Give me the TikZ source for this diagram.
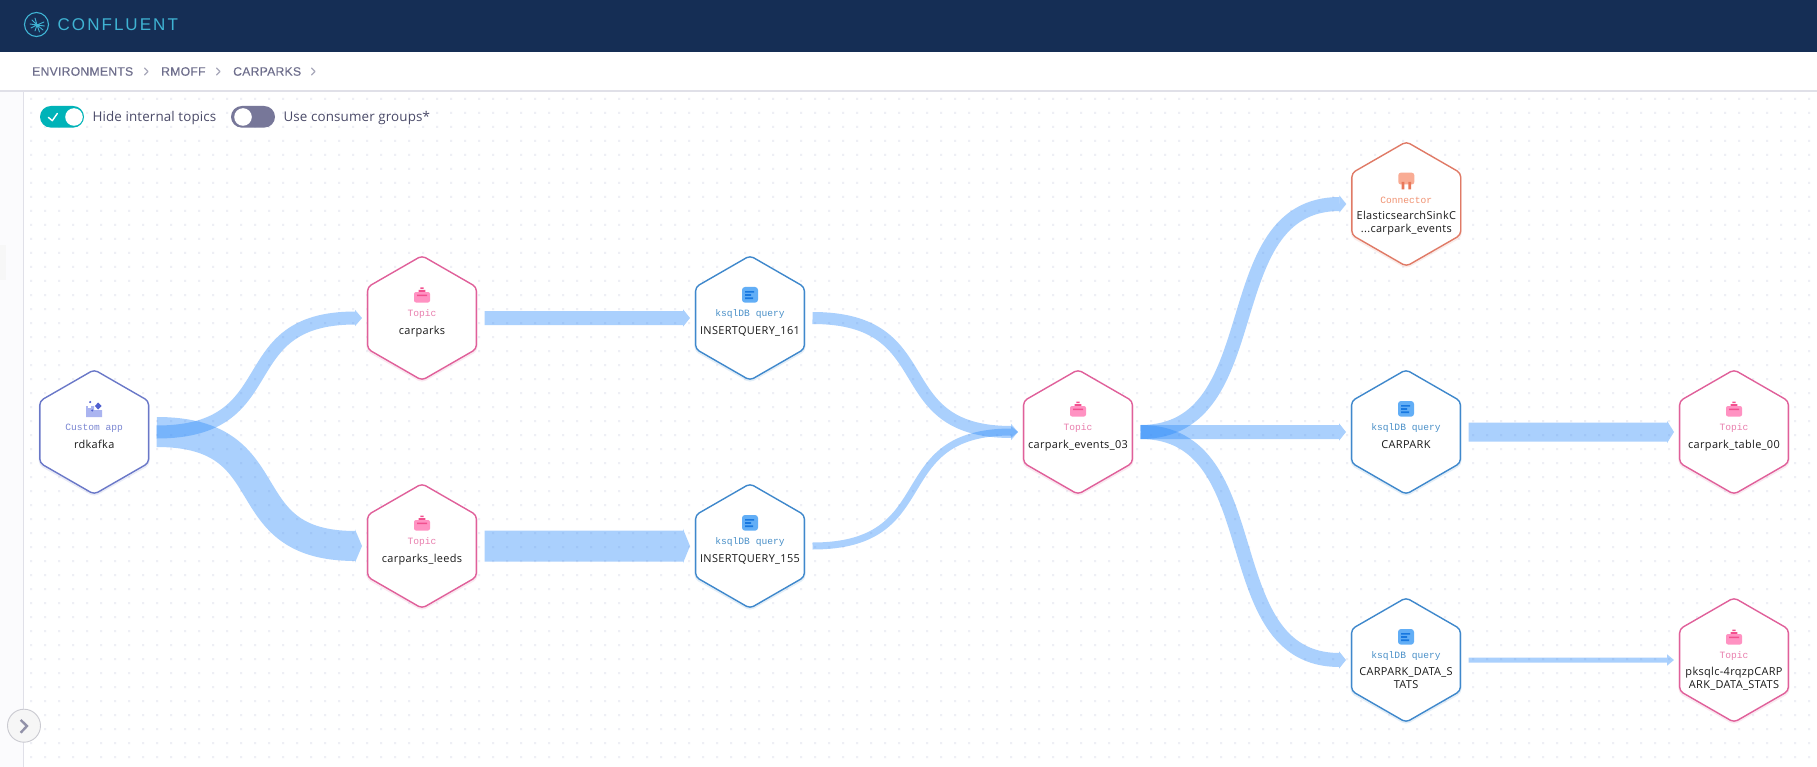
\documentclass[tikz,border=0pt]{standalone}
\usepackage{fontspec}
\usetikzlibrary{arrows.meta}
\setmainfont{Liberation Sans}
\newfontfamily\uifont[LetterSpace=1]{Open Sans}
\newfontfamily\namefont[LetterSpace=3]{Open Sans}
\newfontfamily\kindfont{Liberation Mono}
\newfontfamily\logofont[LetterSpace=12]{Liberation Sans}
\newfontfamily\crumbfont[FakeBold=0.25,LetterSpace=2]{Liberation Sans}
\definecolor{headerbg}{HTML}{152E55}
\definecolor{logoc}{HTML}{3FB3D3}
\definecolor{crumb}{HTML}{6E6E8C}
\definecolor{rulec}{HTML}{E0E0E8}
\definecolor{sidebg}{HTML}{FBFBFD}
\definecolor{dotc}{HTML}{EEEFF5}
\definecolor{flow}{RGB}{43,138,250}
\definecolor{toggleon}{HTML}{00B3B8}
\definecolor{toggleoff}{HTML}{777799}
\definecolor{uitext}{HTML}{4A4A68}
\definecolor{appline}{HTML}{6A78C8}\definecolor{applabel}{HTML}{7A86D2}
\definecolor{appbody}{HTML}{AAB4F0}\definecolor{appdark}{HTML}{5060D0}
\definecolor{topicline}{HTML}{E0609A}\definecolor{topiclabel}{HTML}{E97FAE}
\definecolor{topicbody}{HTML}{FF92C2}\definecolor{topicdark}{HTML}{F2508F}
\definecolor{ksqlline}{HTML}{3F88CC}\definecolor{ksqllabel}{HTML}{4A90C8}
\definecolor{ksqlbody}{HTML}{62AEF6}\definecolor{ksqldark}{HTML}{1878E0}
\definecolor{connline}{HTML}{E07A66}\definecolor{connlabel}{HTML}{F09272}
\definecolor{connbody}{HTML}{F9AC94}\definecolor{conndark}{HTML}{E8785A}
\tikzset{
  hexbox/.style={rectangle,minimum width=109pt,minimum height=124pt,inner sep=0pt,outer sep=0pt},
  hexline/.style={line width=1.4pt,rounded corners=4pt,line join=round},
  bandline/.style={draw=flow,shorten <=8pt,shorten >=5.5pt},
  kindlabel/.style={inner sep=0pt,font=\kindfont\fontsize{9.6}{11}\selectfont},
  namelabel/.style={inner sep=0pt,anchor=north,align=center,text=black!90,font=\namefont\fontsize{10.95}{13}\selectfont,execute at begin node=\strut},
  uilabel/.style={inner sep=0pt,anchor=west,text=uitext,font=\uifont\fontsize{13.4}{16}\selectfont},
  crumblabel/.style={inner sep=0pt,anchor=west,text=crumb,font=\crumbfont\fontsize{12.2}{14}\selectfont},
  chev/.style={draw=#1,line width=1.2pt,line cap=round,line join=round}
}
\newcommand\iconapp{%
  \fill[fill=appbody] (-8,-26) -- (-6.4,-26) -- (-6.4,-24) -- (-3,-24) -- (-3,-26) -- (0,-26) -- (0,-22) -- (8,-22) -- (8,-15) -- (-8,-15) -- cycle;
  \fill[fill=appdark] (4,-29.5) -- (7.4,-26) -- (4,-22.5) -- (.6,-26) -- cycle;
  \fill[fill=appdark] (-4,-30) circle (1.2) (-2,-21.5) circle (1.1);
}
\newcommand\icontopic{%
  \fill[fill=topicbody,rounded corners=2pt] (-8,-26) rectangle (8,-15.5);
  \fill[fill=topicdark] (-5,-23.5) rectangle (5,-22) (-3.3,-28) rectangle (3.3,-26.2) (-1.6,-30.5) rectangle (1.6,-29);
}
\newcommand\iconksql{%
  \fill[fill=ksqlbody,rounded corners=3pt] (-8,-31) rectangle (8,-15.3);
  \fill[fill=ksqldark] (-5,-27) rectangle (4,-25.4) (-5,-23.8) rectangle (1,-22.2) (-5,-20.6) rectangle (3,-19);
}
\newcommand\iconconn{%
  \fill[fill=connbody,rounded corners=2.5pt] (-8,-31.3) rectangle (8,-19.5);
  \fill[fill=conndark] (-4.8,-22) rectangle (-2,-14.7) (2,-22) rectangle (4.8,-14.7);
}
% name, x, y, kind prefix, icon, kind text, label text
\newcommand\hexnode[7]{%
  \node[hexbox] (#1) at (#2,#3) {};
  \begin{scope}[shift={(#2,#3)}]
    \draw[hexline,draw=#4line,opacity=.14,line width=2.4pt] (0,-60.5) -- (54.4,-29.5) -- (54.4,32.5) -- (0,63.5) -- (-54.4,32.5) -- (-54.4,-29.5) -- cycle;
    \draw[hexline,draw=#4line,fill=white] (0,-62.3) -- (54.4,-31) -- (54.4,31) -- (0,62.3) -- (-54.4,31) -- (-54.4,-31) -- cycle;
    #5
    \node[kindlabel,text=#4label] (#1-kind) at (0,-4) {#6};
    \node[namelabel] (#1-name) at (0,7) {#7};
  \end{scope}
}
\newcommand\band[3]{%
  \begin{scope}[transparency group,opacity=.4]
    \draw[bandline,line width=#1pt,-{Triangle[length=7pt,width=#2pt]}] #3;
  \end{scope}
}
\begin{document}
\begin{tikzpicture}[x=1pt,y=-1pt]
% page
\fill[white] (0,0) rectangle (1817,767);
\fill[sidebg] (0,92) rectangle (23.5,767);
\fill[black!3] (0,245) rectangle (6,280);
% canvas dots
\fill[dotc] foreach \dx in {0,...,127} { foreach \dy in {0,...,47} { ({30+14*\dx},{98+14*\dy}) rectangle ++(2,2) } };
% header
\fill[headerbg] (0,0) rectangle (1817,52);
\draw[logoc,line width=1.1pt] (36.5,24.5) circle (12);
\draw[logoc,line width=.9pt,line cap=round]
  (37,25) -- (44,22) (37,25) -- (44.5,26) (37,25) -- (43,30) (37,25) -- (39.5,32) (37,25) -- (35,31)
  (37,25) -- (31,28) (37,25) -- (30,24) (37,25) -- (32,20) (37,25) -- (35,18);
\node[inner sep=0pt,anchor=west,text=logoc,font=\logofont\fontsize{17}{20}\selectfont] (brand) at (57.5,24.5) {CONFLUENT};
% breadcrumb
\node[crumblabel] (crumbenv) at (32,71.5) {ENVIRONMENTS};
\draw[chev=crumb!60] (144.5,68) -- (148,71.5) -- (144.5,75);
\node[crumblabel] (crumbuser) at (161,71.5) {RMOFF};
\draw[chev=crumb!60] (216.5,68) -- (220,71.5) -- (216.5,75);
\node[crumblabel] (crumbcluster) at (233,71.5) {CARPARKS};
\draw[chev=crumb!60] (311.5,68) -- (315,71.5) -- (311.5,75);
\fill[rulec] (0,90.5) rectangle (1817,92);
\fill[rulec] (23,92) rectangle (24.2,767);
% toggles
\fill[toggleon,rounded corners=10.8pt] (40,106) rectangle (84,127.6);
\fill[white] (74,117) circle (8.8);
\draw[white,line width=1.4pt,line cap=round,line join=round] (48.3,117.3) -- (52.3,120.7) -- (57.3,113.5);
\node[uilabel] (hidelabel) at (92.3,117.8) {Hide internal topics};
\fill[toggleoff,rounded corners=10.8pt] (231,106) rectangle (275,127.6);
\fill[white] (243,117) circle (8.8);
\node[uilabel] (grouplabel) at (283.3,117.8) {Use consumer groups*};
% nodes
\hexnode{rdkafka}{94.2}{432}{app}{\iconapp}{Custom app}{rdkafka}
\hexnode{carparks}{422}{318}{topic}{\icontopic}{Topic}{carparks}
\hexnode{leeds}{422}{546}{topic}{\icontopic}{Topic}{carparks\_leeds}
\hexnode{qa}{750}{318}{ksql}{\iconksql}{ksqlDB query}{INSERTQUERY\_161}
\hexnode{qb}{750}{546}{ksql}{\iconksql}{ksqlDB query}{INSERTQUERY\_155}
\hexnode{events}{1078}{432}{topic}{\icontopic}{Topic}{carpark\_events\_03}
\hexnode{sink}{1406.3}{204}{conn}{\iconconn}{Connector}{ElasticsearchSinkC\\...carpark\_events}
\hexnode{carpark}{1406}{432}{ksql}{\iconksql}{ksqlDB query}{CARPARK}
\hexnode{stats}{1406}{660}{ksql}{\iconksql}{ksqlDB query}{CARPARK\_DATA\_S\\TATS}
\hexnode{tableout}{1734}{432}{topic}{\icontopic}{Topic}{carpark\_table\_00}
\hexnode{statsout}{1734}{660}{topic}{\icontopic}{Topic}{pksqlc-4rqzpCARP\\ARK\_DATA\_STATS}
% flows
\band{13}{16}{(rdkafka.east) .. controls +(140,0) and +(-140,0) .. (carparks.west)}
\band{30}{33}{(rdkafka.east) .. controls +(140,0) and +(-140,0) .. (leeds.west)}
\band{14}{17}{(carparks.east) -- (qa.west)}
\band{31}{34}{(leeds.east) -- (qb.west)}
\band{12}{16}{(qa.east) .. controls +(140,0) and +(-140,0) .. (events.west)}
\band{7}{11}{(qb.east) .. controls +(140,0) and +(-140,0) .. (events.west)}
\band{14}{17}{(events.east) .. controls +(140,0) and +(-140,0) .. (sink.west)}
\band{14}{17}{(events.east) -- (carpark.west)}
\band{14}{17}{(events.east) .. controls +(140,0) and +(-140,0) .. (stats.west)}
\band{19}{22}{(carpark.east) -- (tableout.west)}
\band{5}{11}{(stats.east) -- (statsout.west)}
% collapse button
\draw[draw=rulec!90!black,fill=black!3.5,line width=.9pt] (24,725.7) circle (16.5);
\draw[draw=crumb!75,line width=2.4pt,line join=miter] (20.7,720) -- (27,726) -- (20.7,732.7);
\pgfresetboundingbox
\useasboundingbox (0,0) rectangle (1817,767);
\end{tikzpicture}
\end{document}
